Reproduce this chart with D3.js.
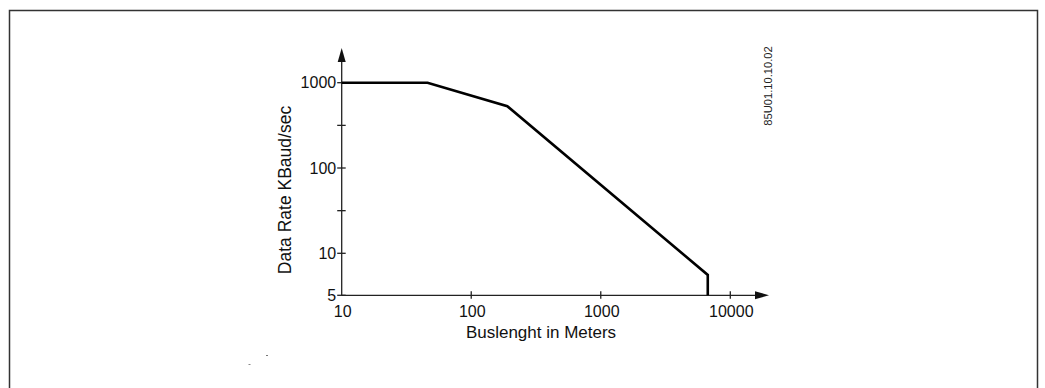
<!DOCTYPE html>
<html>
<head>
<meta charset="utf-8">
<script src="https://cdn.jsdelivr.net/npm/d3@7"></script>
<style>
  body { margin: 0; background: #fff; }
  svg { display: block; font-family: "Liberation Sans", Arial, sans-serif; }
  .axis path { display: none; }
  .axis line { stroke: #222; stroke-width: 1.3; }
  .axis text { fill: #111; font-size: 16px; }
</style>
</head>
<body>
<svg width="1045" height="388"></svg>
<script>
// bus length (m) vs data rate (kBaud/s)
const lengths = [10, 46, 190, 6700, 6700];
const rates = [1000, 1000, 530, 7, 5];
const xTicks = [10, 100, 1000, 10000];
const yTicks = [5, 10, 31.6, 100, 316, 1000];
const yLabels = [5, 10, 100, 1000];

const svg = d3.select('svg');

// frame (no bottom edge, it runs off the picture)
svg.append('path')
    .attr('d', 'M9.5,388 V10.5 H1037.5 V388')
    .attr('fill', 'none')
    .attr('stroke', '#333')
    .attr('stroke-width', 1.5);

const x = d3.scaleLog()
    .domain([10, 10000])
    .range([341.7, 730.3]);

// log axis, but the 5 sits a little lower than a true log step
const yLin = d3.scaleLinear()
    .domain([Math.log10(5), 1, 3])
    .range([295.3, 253.3, 82.7]);
const y = v => yLin(Math.log10(v));

const x0 = x(10), y0 = y(5);

// axis lines
svg.append('line')
    .attr('x1', x0).attr('x2', 760)
    .attr('y1', y0).attr('y2', y0)
    .attr('stroke', '#222').attr('stroke-width', 1.3);
svg.append('line')
    .attr('x1', x0).attr('x2', x0)
    .attr('y1', y0).attr('y2', 58)
    .attr('stroke', '#222').attr('stroke-width', 1.3);

// arrow heads
svg.append('path')
    .attr('d', `M${x0},48 L${x0 - 4},62 L${x0 + 4},62 Z`)
    .attr('fill', '#111');
svg.append('path')
    .attr('d', `M769,${y0} L755,${y0 - 4} L755,${y0 + 4} Z`)
    .attr('fill', '#111');

// y ticks
const gy = svg.append('g').attr('class', 'axis');
gy.selectAll('line')
    .data(yTicks)
    .enter().append('line')
    .attr('x1', x0 - 4.5).attr('x2', x0 + 4)
    .attr('y1', d => y(d)).attr('y2', d => y(d));
gy.selectAll('text')
    .data(yLabels)
    .enter().append('text')
    .attr('x', x0 - 5.5)
    .attr('y', d => y(d))
    .attr('dy', '0.36em')
    .attr('text-anchor', 'end')
    .attr('font-size', 16.5)
    .text(d => d);

// x ticks
const gx = svg.append('g').attr('class', 'axis');
gx.selectAll('line')
    .data(xTicks.slice(1))
    .enter().append('line')
    .attr('x1', d => x(d)).attr('x2', d => x(d))
    .attr('y1', y0 - 4).attr('y2', y0 + 3.5);
gx.selectAll('text')
    .data(xTicks)
    .enter().append('text')
    .attr('x', d => x(d) + 1)
    .attr('y', 317)
    .attr('text-anchor', 'middle')
    .attr('font-size', 16.5)
    .text(d => d);

// data line
const line = d3.line()
    .x((d, i) => x(lengths[i]))
    .y((d, i) => y(rates[i]));
svg.append('path')
    .datum(rates)
    .attr('d', line)
    .attr('fill', 'none')
    .attr('stroke', '#000')
    .attr('stroke-width', 2.6)
    .attr('stroke-linejoin', 'miter');

// titles
svg.append('text')
    .attr('x', 541).attr('y', 337.5)
    .attr('text-anchor', 'middle')
    .attr('font-size', 17)
    .attr('fill', '#111')
    .text('Buslenght in Meters');

svg.append('text')
    .attr('transform', 'translate(291,190) rotate(-90)')
    .attr('text-anchor', 'middle')
    .attr('font-size', 17.5)
    .attr('fill', '#111')
    .text('Data Rate KBaud/sec');

svg.append('text')
    .attr('transform', 'translate(772,86) rotate(-90)')
    .attr('text-anchor', 'middle')
    .attr('font-size', 11.2)
    .attr('fill', '#222')
    .text('85U01.10.10.02');

// two stray specks in the scan
svg.append('rect').attr('x', 266).attr('y', 355).attr('width', 2).attr('height', 1).attr('fill', '#777');
svg.append('rect').attr('x', 248.5).attr('y', 364).attr('width', 2).attr('height', 1).attr('fill', '#888');
</script>
</body>
</html>
